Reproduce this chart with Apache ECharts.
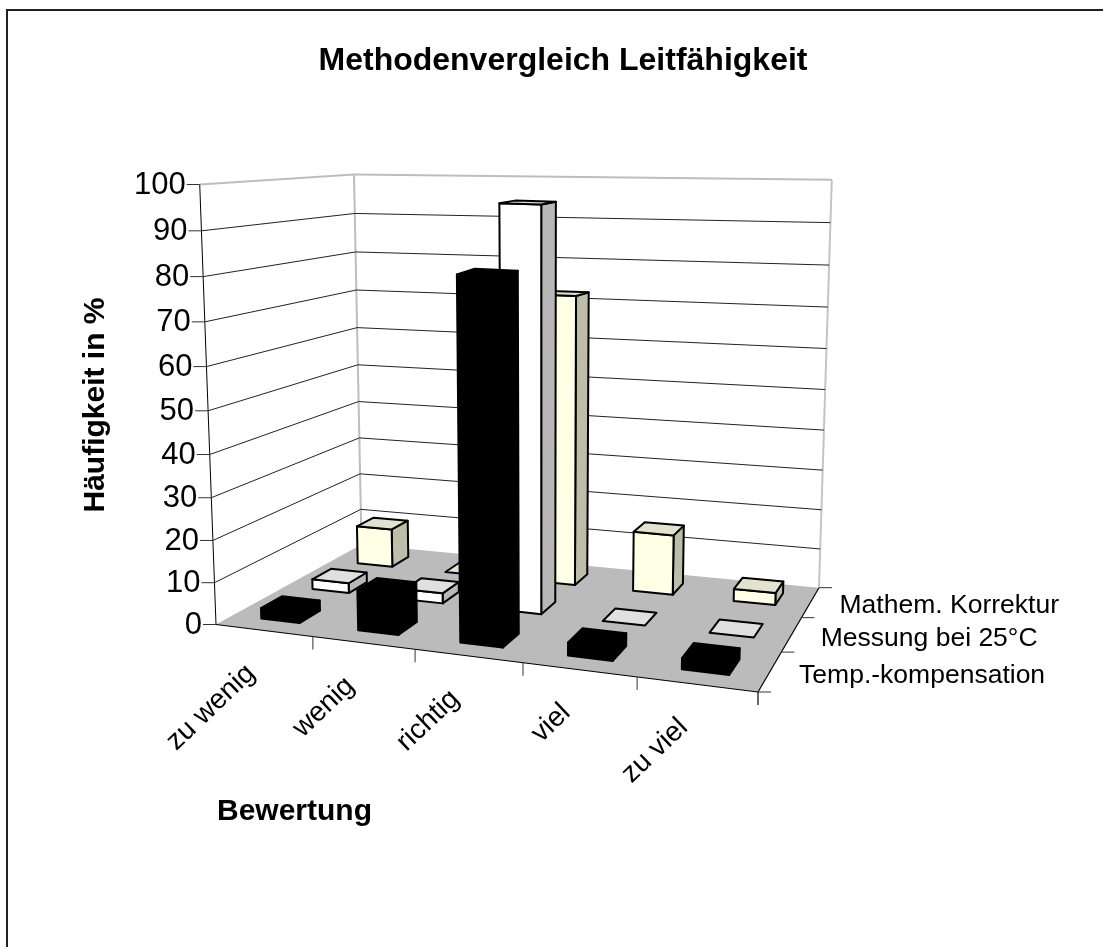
<!DOCTYPE html>
<html><head><meta charset="utf-8">
<style>html,body{margin:0;padding:0;background:#fff}#c{width:1103px;height:947px}</style>
<script src="https://cdn.jsdelivr.net/npm/echarts@6/dist/echarts.min.js"></script>
</head><body><div id="c"></div>
<script>
const categories = ['zu wenig','wenig','richtig','viel','zu viel'];
const depthLabels = ['Temp.-kompensation','Messung bei 25°C','Mathem. Korrektur'];
const tempKompensation = [2.5, 9.5, 82, 3, 2.5];
const messung25 = [2.5, 2.5, 95, 0, 0];
const mathemKorrektur = [10, 0, 72, 15, 3];
const valueTicks = [0,10,20,30,40,50,60,70,80,90,100];
const titleText = 'Methodenvergleich Leitfähigkeit';
const valueName = 'Häufigkeit in %';
const categoryName = 'Bewertung';

// camera calibration of the 3D view
const floorQuad = [[216,624.5],[758,692],[819,587.7],[361.5,544.5]];
const vanish = [542,9436];          // vertical vanishing point
const cornerHeights = [440,485,408,370]; // pixel height of 100 % at FL, FR, BR, BL
const uWarp = 0.978, wWarp = 1.059;
const GW = 500, GH = 500;
function homographyMatrix(q){
  const [p0,p1,p2,p3]=q;
  const dx1=p1[0]-p2[0],dx2=p3[0]-p2[0],sx=p0[0]-p1[0]+p2[0]-p3[0];
  const dy1=p1[1]-p2[1],dy2=p3[1]-p2[1],sy=p0[1]-p1[1]+p2[1]-p3[1];
  const d=dx1*dy2-dx2*dy1;
  const g=(sx*dy2-dx2*sy)/d,h=(dx1*sy-sx*dy1)/d;
  return {a:p1[0]-p0[0]+g*p1[0],b:p3[0]-p0[0]+h*p3[0],c:p0[0],
          e:p1[1]-p0[1]+g*p1[1],f:p3[1]-p0[1]+h*p3[1],i:p0[1],g,h};
}
const H=homographyMatrix(floorQuad);
function proj(uRaw,v,wRaw){
  const u=uRaw/(uRaw+(1-uRaw)*uWarp);
  const w=wRaw/(wRaw+(1-wRaw)*wWarp);
  const k=H.g*u+H.h*v+1;
  const fx=(H.a*u+H.b*v+H.c)/k, fy=(H.e*u+H.f*v+H.i)/k;
  const [h0,h1,h2,h3]=cornerHeights;
  const hgt=(h0*(1-u)+h1*u)*(1-v)+(h3*(1-u)+h2*u)*v;
  const dy=w*hgt;
  return [fx+(vanish[0]-fx)*(-dy)/(vanish[1]-fy),fy-dy];
}
function gridUW(api,cat,val){const p=api.coord([cat,val]);return [p[0]/GW,1-p[1]/GH];}

const rows=[tempKompensation,messung25,mathemKorrektur];
const faceColors=[
  {front:'#000000',top:'#000000',side:'#000000'},
  {front:'#FFFFFF',top:'#E0E0E0',side:'#B8B8B8'},
  {front:'#FFFFE5',top:'#E2E2CE',side:'#BDBDAA'}
];
function poly(pts,fill,lw){return {type:'polygon',silent:true,shape:{points:pts},style:{fill:fill,stroke:'#000',lineWidth:lw,lineJoin:'round'}};}
function line(a,b,color,lw){return {type:'line',silent:true,shape:{x1:a[0],y1:a[1],x2:b[0],y2:b[1]},style:{stroke:color,lineWidth:lw}};}
function barSeries(rowIdx){
  const vals=rows[rowIdx];
  return {type:'custom',coordinateSystem:'cartesian2d',z:5+(2-rowIdx),animation:false,silent:true,
    data:vals.map((v,i)=>[i,v]),encode:{x:0,y:1},
    renderItem(params,api){
      const cat=api.value(0),val=api.value(1);
      const uw=gridUW(api,cat,val);
      const band=api.size([1,0])[0]/GW;
      const bw=band*0.4, u0=uw[0]-bw/2,u1=uw[0]+bw/2;
      const cell=1/3, vc=(rowIdx+0.5)*cell, v0=vc-cell*0.2, v1=vc+cell*0.2, w=uw[1];
      const c=faceColors[rowIdx], lw=2;
      const A=proj(u0,v0,0),B=proj(u1,v0,0),C=proj(u1,v1,0);
      const At=proj(u0,v0,w),Bt=proj(u1,v0,w),Ct=proj(u1,v1,w),Dt=proj(u0,v1,w);
      const ch=[];
      if(w>0){
        ch.push(poly([B,C,Ct,Bt],c.side,lw));
        ch.push(poly([A,B,Bt,At],c.front,lw));
      }
      ch.push(poly([At,Bt,Ct,Dt],c.top,lw));
      return {type:'group',children:ch};
    }};
}
const boxSeries={type:'custom',coordinateSystem:'cartesian2d',z:1,animation:false,silent:true,
  data:valueTicks.map(v=>[0,v]),encode:{x:0,y:1},
  renderItem(params,api){
    const val=api.value(1);
    const w=gridUW(api,0,val)[1];
    const ch=[];
    if(params.dataIndex===0){
      ch.push({type:'polygon',silent:true,shape:{points:[proj(0,0,0),proj(1,0,0),proj(1,1,0),proj(0,1,0)]},style:{fill:'#BBBBBB'}});
      ch.push(line(proj(0,1,0),proj(0,1,1),'#BDBDBD',2));
      ch.push(line(proj(1,1,0),proj(1,1,1),'#C4C4C4',2));
      ch.push(line(proj(0,0,1),proj(0,1,1),'#BDBDBD',2));
      ch.push(line(proj(0,1,1),proj(1,1,1),'#BDBDBD',2));
      ch.push(line(proj(0,0,0),proj(0,0,1),'#000',1));
      ch.push(line(proj(0,0,0),proj(1,0,0),'#000',1.2));
      ch.push(line(proj(1,0,0),proj(1,1,0),'#000',1.2));
    }
    if(w>0&&w<1){
      ch.push(line(proj(0,0,w),proj(0,1,w),'#222',1));
      ch.push(line(proj(0,1,w),proj(1,1,w),'#222',1));
    }
    const p=proj(0,0,w);
    ch.push(line([p[0]-13,p[1]],p,'#333',1));
    ch.push({type:'text',silent:true,style:{text:String(val),x:p[0]-14,y:p[1]+1,align:'right',verticalAlign:'middle',font:'31px "Liberation Sans"',fill:'#000'}});
    return {type:'group',children:ch};
  }};
const catSeries={type:'custom',coordinateSystem:'cartesian2d',z:2,animation:false,silent:true,
  data:categories.map((c,i)=>[i,0]),encode:{x:0,y:1},
  renderItem(params,api){
    const i=api.value(0);
    const uw=gridUW(api,i,0), band=api.size([1,0])[0]/GW;
    const ch=[];
    const e0=proj(uw[0]+band/2,0,0);
    ch.push(line(e0,[e0[0],e0[1]+13],'#333',1));
    const m=proj(uw[0],0,0);
    ch.push({type:'text',silent:true,x:m[0]-13,y:m[1]+39,rotation:Math.PI/4*0.97,style:{text:categories[i],x:0,y:0,align:'right',verticalAlign:'middle',font:'28px "Liberation Sans"',fill:'#000'}});
    return {type:'group',children:ch};
  }};
const depthSeries={type:'custom',coordinateSystem:'cartesian2d',z:2,animation:false,silent:true,
  data:depthLabels.map((c,i)=>[i,0]),encode:{x:0,y:1},
  renderItem(params,api){
    const i=params.dataIndex;
    const ch=[];
    const t=proj(1,(i+1)/3,0);
    ch.push(line(t,[t[0]+13,t[1]],'#333',1));
    const m=proj(1,(i+0.5)/3,0);
    ch.push({type:'text',silent:true,style:{text:depthLabels[i],x:m[0]+29,y:m[1]+4,align:'left',verticalAlign:'middle',font:'26.5px "Liberation Sans"',fill:'#000'}});
    if(i===0){const s=proj(1,0,0);ch.push(line(s,[s[0]+13,s[1]],'#333',1));ch.push(line(s,[s[0],s[1]+13],'#333',1));}
    return {type:'group',children:ch};
  }};

const option={
  animation:false,
  backgroundColor:'#fff',
  grid:{left:0,top:0,width:GW,height:GH,show:false},
  xAxis:{type:'category',data:categories,show:false},
  yAxis:{type:'value',min:0,max:100,interval:10,show:false},
  title:[
    {text:titleText,left:558,top:40,textAlign:'center',textStyle:{fontFamily:'Liberation Sans',fontWeight:'bold',fontSize:32,color:'#000'}}
  ],
  graphic:[
    {type:'rect',z:0,silent:true,shape:{x:7,y:10,width:1300,height:1200},style:{fill:'none',stroke:'#222',lineWidth:2}},
    {type:'text',silent:true,x:96,y:405,rotation:Math.PI/2,style:{text:valueName,x:0,y:0,align:'center',verticalAlign:'middle',font:'bold 30px "Liberation Sans"',fill:'#000'}},
    {type:'text',silent:true,style:{text:categoryName,x:217,y:812,align:'left',verticalAlign:'middle',font:'bold 30px "Liberation Sans"',fill:'#000'}}
  ],
  series:[boxSeries,barSeries(2),barSeries(1),barSeries(0),catSeries,depthSeries]
};
echarts.init(document.getElementById('c')).setOption(option);
</script></body></html>
